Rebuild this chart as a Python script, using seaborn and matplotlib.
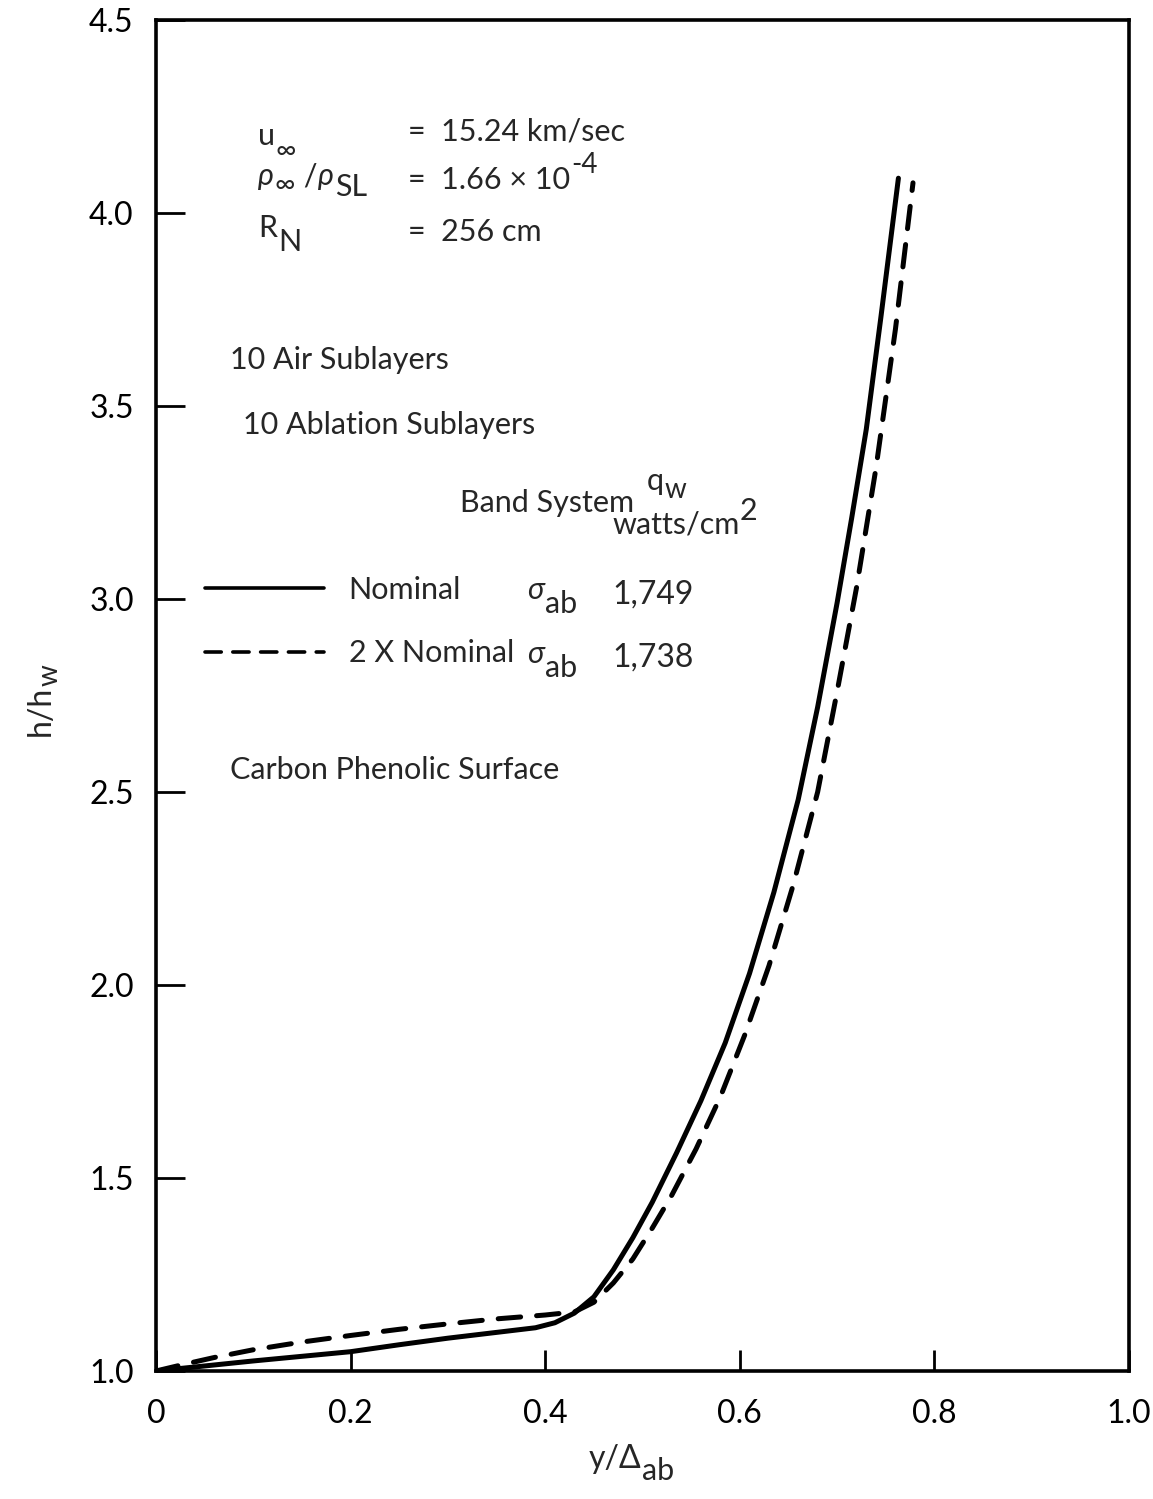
import matplotlib
matplotlib.use("Agg")
import matplotlib.pyplot as plt
import seaborn as sns
import pandas as pd

# Enthalpy profile across the ablation layer
nominal_y = [0.0, 0.05, 0.10, 0.15, 0.20, 0.25, 0.30, 0.35, 0.39, 0.41, 0.43,
             0.45, 0.47, 0.49, 0.51, 0.535, 0.56, 0.585, 0.61, 0.635, 0.66,
             0.68, 0.70, 0.715, 0.73, 0.745, 0.763]
nominal_h = [1.0, 1.013, 1.026, 1.038, 1.050, 1.068, 1.085, 1.100, 1.112, 1.125, 1.150,
             1.192, 1.262, 1.345, 1.437, 1.565, 1.70, 1.85, 2.03, 2.24, 2.48,
             2.72, 2.99, 3.21, 3.44, 3.73, 4.09]

double_y = [0.0, 0.03, 0.06, 0.10, 0.15, 0.20, 0.25, 0.30, 0.35, 0.40, 0.43,
            0.45, 0.47, 0.49, 0.51, 0.53, 0.555, 0.58, 0.605, 0.63, 0.655,
            0.68, 0.70, 0.72, 0.74, 0.76, 0.778]
double_h = [1.0, 1.018, 1.035, 1.055, 1.075, 1.092, 1.108, 1.122, 1.135, 1.145, 1.153,
            1.178, 1.228, 1.29, 1.37, 1.455, 1.575, 1.71, 1.87, 2.05, 2.26,
            2.50, 2.76, 3.03, 3.34, 3.70, 4.078]

series_labels = ["Nominal", "2 X Nominal"]
heat_flux = ["1,749", "1,738"]

x_ticks = [0, 0.2, 0.4, 0.6, 0.8, 1.0]
x_tick_labels = ["0", "0.2", "0.4", "0.6", "0.8", "1.0"]
y_ticks = [1.0, 1.5, 2.0, 2.5, 3.0, 3.5, 4.0, 4.5]
y_tick_labels = ["1.0", "1.5", "2.0", "2.5", "3.0", "3.5", "4.0", "4.5"]

sns.set_theme(style="white")
plt.rcParams["font.family"] = ["Lato", "DejaVu Sans"]

fig = plt.figure(figsize=(11.53, 14.99), dpi=100)
ax = fig.add_axes([0.1353, 0.0854, 0.8439, 0.9013])

df_nom = pd.DataFrame({"y": nominal_y, "h": nominal_h})
df_dbl = pd.DataFrame({"y": double_y, "h": double_h})

sns.lineplot(data=df_nom, x="y", y="h", ax=ax, color="black", lw=3.6,
             sort=False, estimator=None, label=series_labels[0],
             solid_capstyle="round", solid_joinstyle="round")
sns.lineplot(data=df_dbl, x="y", y="h", ax=ax, color="black", lw=3.6,
             sort=False, estimator=None, label=series_labels[1],
             linestyle=(0, (4.5, 3.2)), dash_capstyle="round")
ax.set_xlabel("")
ax.set_ylabel("")

ax.set_xlim(0, 1.0)
ax.set_ylim(1.0, 4.5)
ax.set_xticks(x_ticks)
ax.set_xticklabels(x_tick_labels)
ax.set_yticks(y_ticks)
ax.set_yticklabels(y_tick_labels)

for side in ["left", "right", "top", "bottom"]:
    ax.spines[side].set_visible(True)
    ax.spines[side].set_color("black")
    ax.spines[side].set_linewidth(2.6)

ax.tick_params(axis="x", direction="in", length=15, width=2.0, pad=20,
               labelsize=23, colors="black", bottom=True)
ax.tick_params(axis="y", direction="in", length=21, width=2.0, pad=16,
               labelsize=23, colors="black", left=True)

FS = 22
SUB = 20


def chain(x, y, segments):
    """Write a run of text pieces; each piece is (text, rise_pt, size, style)."""
    txt, rise, size, style = segments[0]
    first = ax.text(x, y, txt, fontsize=size, style=style, va="center", ha="left")
    prev = first
    for txt, rise, size, style in segments[1:]:
        prev = ax.annotate(txt, xy=(1, 0.5), xycoords=(prev, first),
                           xytext=(0.5, rise), textcoords="offset points",
                           fontsize=size, style=style, va="center", ha="left")
    return first


# Free-stream conditions
chain(0.105, 4.20, [("u", 0, FS, "normal"), ("\u221e", -11, SUB, "normal")])
chain(0.259, 4.21, [("=  15.24 km/sec", 0, FS, "normal")])
chain(0.105, 4.095, [("\u03c1", 0, FS, "italic"), ("\u221e", -6, SUB, "normal"),
                     (" /", 0, FS, "normal"), ("\u03c1", 0, FS, "italic"),
                     ("SL", -8, FS, "normal")])
chain(0.259, 4.085, [("=  1.66 \u00d7 10", 0, FS, "normal"), ("-4", 11, SUB, "normal")])
chain(0.105, 3.96, [("R", 0, FS, "normal"), ("N", -10, FS, "normal")])
chain(0.259, 3.95, [("=  256 cm", 0, FS, "normal")])

chain(0.0761, 3.619, [("10 Air Sublayers", 0, FS, "normal")])
chain(0.0894, 3.451, [("10 Ablation Sublayers", 0, FS, "normal")])

# Table header
chain(0.3124, 3.249, [("Band System", 0, FS, "normal")])
chain(0.5040, 3.305, [("q", 0, FS, "normal"), ("w", -6, SUB, "normal")])
chain(0.4687, 3.192, [("watts/cm", 0, FS, "normal"), ("2", 10, FS, "normal")])

# Table rows
row_h = [3.012, 2.848]
for hv, flux in zip(row_h, heat_flux):
    chain(0.3813, hv + 0.01, [("\u03c3", 0, FS, "italic"), ("ab", -10, FS, "normal")])
    chain(0.4687, hv, [(flux, 0, FS + 1, "normal")])

chain(0.0761, 2.557, [("Carbon Phenolic Surface", 0, FS, "normal")])

# Axis titles
xl = ax.annotate("y/\u0394", xy=(0.445, -0.065), xycoords="axes fraction",
                 fontsize=23, va="center", ha="left")
ax.annotate("ab", xy=(1, 0.5), xycoords=xl, xytext=(0.5, -9),
            textcoords="offset points", fontsize=22, va="center", ha="left")
yl = ax.annotate("h/h", xy=(-0.118, 0.47), xycoords="axes fraction",
                 fontsize=23, va="bottom", ha="center", rotation=90)
ax.annotate("w", xy=(0.5, 1), xycoords=yl, xytext=(6, 0),
            textcoords="offset points", fontsize=20, va="bottom", ha="center",
            rotation=90)

leg = ax.legend(loc="upper left", bbox_to_anchor=(0.0504, 0.5885), frameon=False,
                fontsize=FS, handlelength=3.9, handletextpad=0.8,
                labelspacing=1.16, borderpad=0.0, borderaxespad=0.0)
for line in leg.get_lines():
    line.set_linewidth(2.6)

fig.savefig("out.png", dpi=100, facecolor="white")
